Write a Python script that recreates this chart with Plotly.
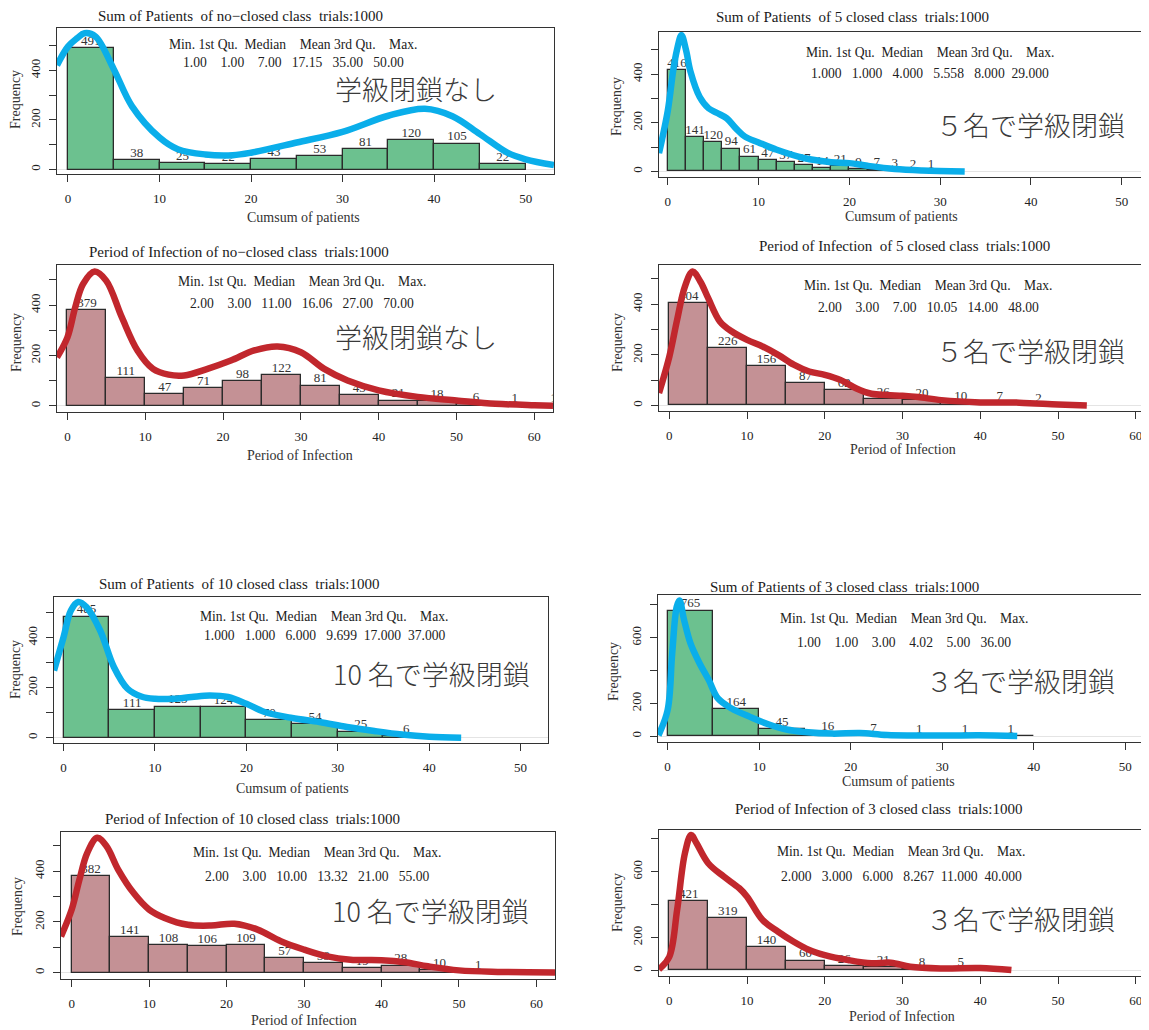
import numpy as np
import plotly.graph_objects as go

W, H = 1149, 1030
OFF = 8  # page body margin of the html page
FW, FH = W - OFF, H - OFF

# ---------------- data ----------------
titles = [
    "Sum of Patients  of no\u2212closed class  trials:1000",
    "Sum of Patients  of 5 closed class  trials:1000",
    "Period of Infection of no\u2212closed class  trials:1000",
    "Period of Infection  of 5 closed class  trials:1000",
    "Sum of Patients  of 10 closed class  trials:1000",
    "Sum of Patients of 3 closed class  trials:1000",
    "Period of Infection of 10 closed class  trials:1000",
    "Period of Infection of 3 closed class  trials:1000",
]
xtitles = ["Cumsum of patients", "Cumsum of patients", "Period of Infection", "Period of Infection",
           "Cumsum of patients", "Cumsum of patients", "Period of Infection", "Period of Infection"]
jp_labels = ["学級閉鎖なし", "５名で学級閉鎖", "学級閉鎖なし", "５名で学級閉鎖",
             "10 名で学級閉鎖", "３名で学級閉鎖", "10 名で学級閉鎖", "３名で学級閉鎖"]
summary_header = "Min. 1st Qu.  Median    Mean 3rd Qu.    Max."
summary_values = [
    "1.00    1.00    7.00   17.15   35.00   50.00",
    "1.000   1.000   4.000   5.558   8.000  29.000",
    "2.00    3.00   11.00   16.06   27.00   70.00",
    "2.00    3.00    7.00   10.05   14.00   48.00",
    "1.000   1.000   6.000   9.699  17.000  37.000",
    "1.00    1.00    3.00    4.02    5.00   36.00",
    "2.00    3.00   10.00   13.32   21.00   55.00",
    "2.000   3.000   6.000   8.267  11.000  40.000",
]

sum_none_counts = [491, 38, 25, 22, 43, 53, 81, 120, 105, 22]
sum_5_counts = [416, 141, 120, 94, 61, 47, 37, 27, 14, 21, 9, 7, 3, 2, 1]
period_none_counts = [379, 111, 47, 71, 98, 122, 81, 43, 21, 18, 6, 1, 1, 1]
period_5_counts = [404, 226, 156, 87, 62, 26, 20, 10, 7, 2]
sum_10_counts = [485, 111, 125, 124, 70, 54, 25, 6]
sum_3_counts = [765, 164, 45, 16, 7, 1, 1, 1]
period_10_counts = [382, 141, 108, 106, 109, 57, 39, 19, 28, 10, 1]
period_3_counts = [421, 319, 140, 60, 26, 21, 8, 5]
bin_widths = [5, 2, 5, 5, 5, 5, 5, 5]

# density curves
sum_none_dx = [-1.2, 0, 1, 1.8, 3, 5, 7, 10, 12, 15, 18, 20, 25, 30, 35, 39, 42, 45, 48, 50, 53.1]
sum_none_dy = [421, 496, 530, 550, 537, 405, 255, 129, 82, 61, 58, 68, 109, 152, 217, 245, 215, 143, 68, 41, 18]
sum_5_dx = [-0.97, 0, 0.6, 1, 1.5, 2, 2.5, 3.5, 4.5, 5.5, 6.5, 7.5, 8.5, 10, 12, 15, 18, 20, 22, 25, 28, 32.7]
sum_5_dy = [75, 250, 416, 498, 560, 500, 410, 307, 259, 239, 218, 177, 143, 119, 89, 55, 38, 34, 23, 10, 4, 0]
period_none_dx = [-1.34, 0, 1, 2, 3.5, 5, 7, 9, 11, 13, 15, 18, 21, 24, 27, 30, 33, 36, 40, 45, 50, 55, 60, 62.4]
period_none_dy = [193, 272, 391, 483, 533, 496, 351, 220, 147, 124, 121, 147, 180, 220, 236, 213, 147, 101, 62, 36, 22, 9, 3, 1]
period_5_dx = [-1.33, 0, 1, 2, 3, 4, 5, 6.5, 8, 10, 12, 14, 16, 18, 20, 22, 24, 26, 28, 30, 32, 35, 40, 45, 50, 53.7]
period_5_dy = [49, 193, 338, 470, 529, 489, 424, 332, 293, 259, 233, 200, 161, 134, 121, 101, 68, 46, 41, 38, 33, 21, 12, 11, 4, 0]
sum_10_dx = [-1.05, 0, 0.8, 1.6, 2.5, 4, 5.5, 7, 8.5, 10, 12, 14, 16, 18, 20, 22, 25, 28, 31, 34, 37, 40, 43.5]
sum_10_dy = [269, 403, 509, 543, 523, 429, 283, 196, 165, 156, 156, 163, 169, 163, 136, 103, 79, 63, 43, 27, 13, 4, 0]
sum_3_dx = [-1, 0, 0.5, 1, 1.3, 1.8, 2.5, 3.5, 4.5, 5.5, 7, 9, 11, 13, 15, 18, 21, 24, 30, 34, 38.2]
sum_3_dy = [6, 159, 504, 789, 826, 708, 565, 443, 342, 230, 169, 118, 73, 41, 26, 16, 20, 8, 4, 6, 2]
period_10_dx = [-1.38, 0, 1, 2, 3.3, 4.5, 6, 8, 10, 12, 15, 18, 21, 24, 27, 30, 33, 36, 40, 43, 46, 50, 55, 62.4]
period_10_dy = [143, 249, 367, 472, 532, 499, 407, 314, 249, 216, 189, 186, 193, 170, 124, 91, 64, 51, 49, 41, 25, 9, 3, 1]
period_3_dx = [-1.33, 0, 1, 2, 2.8, 3.5, 5, 7, 9, 10, 12, 14, 16, 18, 20, 23, 26, 28.5, 31, 35, 40, 44]
period_3_dy = [6, 83, 367, 711, 823, 772, 651, 570, 499, 448, 306, 235, 174, 124, 93, 63, 43, 47, 22, 12, 14, 2]

# y tick labels
ytick_vals_500 = [0, 100, 200, 300, 400, 500]
ytick_text_500 = ["0", "", "200", "", "400", ""]
ytick_vals_800 = [0, 200, 400, 600, 800]
ytick_text_800 = ["0", "200", "", "600", ""]

counts = [sum_none_counts, sum_5_counts, period_none_counts, period_5_counts,
          sum_10_counts, sum_3_counts, period_10_counts, period_3_counts]
dens_x = [sum_none_dx, sum_5_dx, period_none_dx, period_5_dx, sum_10_dx, sum_3_dx, period_10_dx, period_3_dx]
dens_y = [sum_none_dy, sum_5_dy, period_none_dy, period_5_dy, sum_10_dy, sum_3_dy, period_10_dy, period_3_dy]

# ---------------- layout geometry (screen pixels) ----------------
boxes = [  # x0, x1, y0(top), y1(bottom)
    (57, 554, 28, 174), (659, 1149, 32, 177),
    (57, 553, 265, 412), (659, 1149, 265, 411),
    (54, 548, 597, 743), (658, 1149, 595, 742),
    (61, 555, 832, 979), (659, 1149, 830, 976),
]
xranges = [[-1.2, 53.1], [-0.97, 53.0], [-1.34, 62.4], [-1.33, 61.7],
           [-1.05, 53.0], [-1.05, 52.6], [-1.38, 62.4], [-1.33, 61.7]]
yranges = [[-18, 571], [-23, 573], [-24, 559], [-22, 555],
           [-21, 563], [-35, 860], [-25, 555], [-34, 853]]
xticks_max = [50, 50, 60, 60, 50, 50, 60, 60]
title_pos = [(240, 16), (852, 17), (239, 252), (905, 246), (239, 584), (844, 587), (252, 819), (878, 809)]
xtitle_pos = [(303, 218), (901, 217), (300, 455), (903, 450), (292, 788), (898, 781), (304, 1020), (902, 1016)]
freq_pos = [(15, 100), (616, 107), (16, 343), (617, 343), (15, 670), (613, 672), (17, 907), (617, 903)]
summ_pos = [(293, 45, 62), (930, 52, 74), (302, 282, 303), (928, 285, 307),
            (324, 616, 635), (904, 618, 642), (317, 852, 876), (901, 851, 876)]
jp_pos = [(416, 88), (1030, 125), (416, 337), (1030, 350), (431, 673), (1020, 680), (430, 910), (1020, 918)]

GREEN = "#6cc18f"
ROSE = "#c49195"
BLUE = "#0aaeea"
RED = "#c1272d"
SERIF = "Liberation Serif, Times New Roman, serif"
CJK = "Noto Sans CJK JP"

fig = go.Figure()
annotations = []


def px2paper(x, y):
    return (x - OFF) / FW, 1 - (y - OFF) / FH


def ann(text, x, y, size, family, color="#222", angle=0, weight="normal"):
    px, py = px2paper(x, y)
    annotations.append(dict(text=text, x=px, y=py, xref="paper", yref="paper",
                            xanchor="center", yanchor="middle", showarrow=False,
                            textangle=angle,
                            font=dict(family=family, size=size, color=color, weight=weight)))


def nb(s):
    return s.replace(" ", "\u00a0")


for i in range(8):
    k = "" if i == 0 else str(i + 1)
    xa, ya = "x" + k, "y" + k
    bw = bin_widths[i]
    c = np.array(counts[i])
    mids = np.arange(len(c)) * bw + bw / 2
    is_sum = xtitles[i].startswith("Cumsum")
    fig.add_trace(go.Bar(x=mids, y=c, width=bw, xaxis=xa, yaxis=ya,
                         marker=dict(color=GREEN if is_sum else ROSE,
                                     line=dict(color="#2b2b2b", width=1.3)),
                         showlegend=False, hoverinfo="skip"))
    fig.add_trace(go.Scatter(x=mids, y=c, mode="text", text=[str(v) for v in c],
                             textposition="top center", xaxis=xa, yaxis=ya,
                             textfont=dict(family=SERIF, size=13, color="#333"),
                             cliponaxis=True, showlegend=False, hoverinfo="skip"))
    fig.add_trace(go.Scatter(x=dens_x[i], y=dens_y[i], mode="lines", xaxis=xa, yaxis=ya,
                             line=dict(color=BLUE if is_sum else RED, width=6.5, shape="spline", smoothing=1.0),
                             showlegend=False, hoverinfo="skip"))

    x0, x1, yt, yb = boxes[i]
    big = yranges[i][1] > 700
    fig.layout["xaxis" + k] = dict(
        domain=[(x0 - OFF) / FW, min((x1 - OFF) / FW, 1.0)], range=xranges[i], anchor=ya,
        tickvals=list(range(0, xticks_max[i] + 1, 10)),
        showline=True, linecolor="#333", linewidth=1.2, mirror=True,
        ticks="outside", ticklen=7, tickcolor="#333", ticklabelstandoff=5,
        tickfont=dict(family=SERIF, size=13, color="#222"),
        showgrid=False, zeroline=False)
    fig.layout["yaxis" + k] = dict(
        domain=[1 - (yb - OFF) / FH, 1 - (yt - OFF) / FH], range=yranges[i], anchor=xa,
        tickvals=ytick_vals_800 if big else ytick_vals_500,
        ticktext=ytick_text_800 if big else ytick_text_500,
        tickangle=-90,
        showline=True, linecolor="#333", linewidth=1.2, mirror=True,
        ticks="outside", ticklen=7, tickcolor="#333", ticklabelstandoff=4,
        tickfont=dict(family=SERIF, size=13, color="#222"),
        showgrid=False, zeroline=True, zerolinecolor="#e4e4e4", zerolinewidth=1)

    ann(nb(titles[i]), *title_pos[i], 15, SERIF, "#1a1a1a")
    ann(xtitles[i], *xtitle_pos[i], 14, SERIF, "#333")
    ann("Frequency", *freq_pos[i], 14, SERIF, "#333", angle=-90)
    sx, sy1, sy2 = summ_pos[i]
    ann(nb(summary_header), sx, sy1, 13.6, SERIF, "#222")
    ann(nb(summary_values[i]), sx, sy2, 13.6, SERIF, "#222")
    ann(jp_labels[i], *jp_pos[i], 27, CJK, "#3a3a3a", weight=300)

fig.update_layout(width=FW, height=FH, margin=dict(l=0, r=0, t=0, b=0),
                  paper_bgcolor="white", plot_bgcolor="white", bargap=0,
                  annotations=annotations)
fig.write_html("out.html")
